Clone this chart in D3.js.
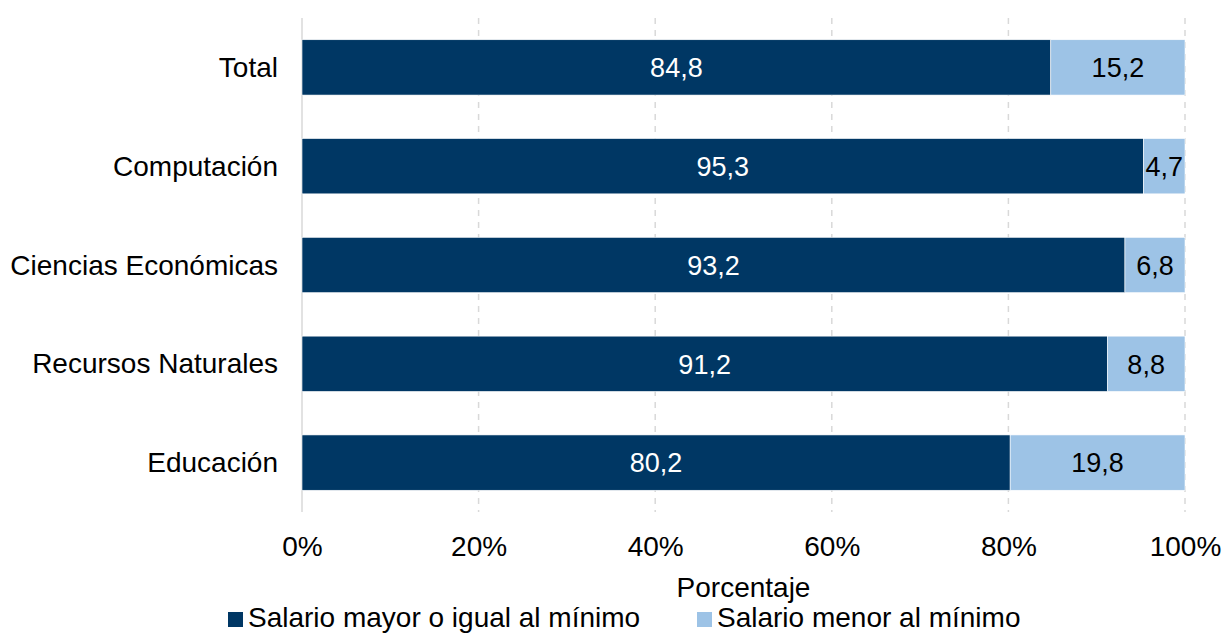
<!DOCTYPE html>
<html><head><meta charset="utf-8">
<script src="https://cdn.jsdelivr.net/npm/d3@7"></script>
<style>body{margin:0;background:#fff}svg{display:block;font-family:"Liberation Sans",Arial,sans-serif}</style>
</head><body><svg id="c" width="1224" height="633"></svg>
<script>
const categories = ["Total","Computación","Ciencias Económicas","Recursos Naturales","Educación"];
const mayor = [84.8,95.3,93.2,91.2,80.2];
const menor = [15.2,4.7,6.8,8.8,19.8];
const seriesNames = ["Salario mayor o igual al mínimo","Salario menor al mínimo"];
const colors = ["#003764","#9dc3e6"];
const ticks = [0,20,40,60,80,100];

const FS = 28;
const svg = d3.select("#c");
const x = d3.scaleLinear().domain([0,100]).range([302,1185]);
const y = d3.scaleBand().domain(categories).range([18,512]).paddingInner(0.44).paddingOuter(0.22);

// gridlines
svg.append("g").selectAll("line").data(ticks).join("line")
  .attr("x1",d=>x(d)).attr("x2",d=>x(d)).attr("y1",18).attr("y2",512)
  .attr("stroke","#d9d9d9").attr("stroke-width",1.5)
  .attr("stroke-dasharray",d=>d===0?null:"6,6");

const rows = categories.map((c,i)=>({c, a:mayor[i], b:menor[i]}));
const g = svg.append("g");
const fmt = v=>d3.format(".1f")(v).replace(".",",");
rows.forEach(r=>{
  g.append("rect").attr("x",x(0)).attr("y",y(r.c)).attr("width",x(r.a)-x(0)).attr("height",y.bandwidth())
    .attr("fill",colors[0]).attr("stroke","#fff").attr("stroke-width",0.6);
  g.append("rect").attr("x",x(r.a)).attr("y",y(r.c)).attr("width",x(r.a+r.b)-x(r.a)).attr("height",y.bandwidth())
    .attr("fill",colors[1]).attr("stroke","#fff").attr("stroke-width",0.6);
  g.append("text").attr("x",(x(0)+x(r.a))/2).attr("y",y(r.c)+y.bandwidth()/2).attr("dy","0.36em")
    .attr("text-anchor","middle").attr("fill","#fff").attr("font-size",27).text(fmt(r.a));
  g.append("text").attr("x",(x(r.a)+x(r.a+r.b))/2).attr("y",y(r.c)+y.bandwidth()/2).attr("dy","0.36em")
    .attr("text-anchor","middle").attr("fill","#000").attr("font-size",27).text(fmt(r.b));
});

// y axis labels
const ya = svg.append("g").attr("transform","translate(302,0)")
  .call(d3.axisLeft(y).tickSize(0).tickPadding(24));
ya.select(".domain").remove();
ya.selectAll("text").attr("font-size",FS).attr("fill","#000").attr("font-family","Liberation Sans, Arial, sans-serif").attr("dy","0.34em");

// x axis
const xa = svg.append("g").attr("transform","translate(0,512)")
  .call(d3.axisBottom(x).tickValues(ticks).tickFormat(d=>d+"%").tickSize(0).tickPadding(0));
xa.select(".domain").remove();
xa.selectAll("text").attr("font-size",FS).attr("fill","#000").attr("font-family","Liberation Sans, Arial, sans-serif")
  .attr("dy",null).attr("y",44);

svg.append("text").attr("x",x(50)).attr("y",597).attr("text-anchor","middle").attr("font-size",FS).text("Porcentaje");

// legend
const leg = [{x:228,t:seriesNames[0],c:colors[0]},{x:697,t:seriesNames[1],c:colors[1]}];
leg.forEach(l=>{
  svg.append("rect").attr("x",l.x).attr("y",612).attr("width",15).attr("height",15).attr("fill",l.c);
  svg.append("text").attr("x",l.x+20).attr("y",627).attr("font-size",FS).text(l.t);
});
</script></body></html>
